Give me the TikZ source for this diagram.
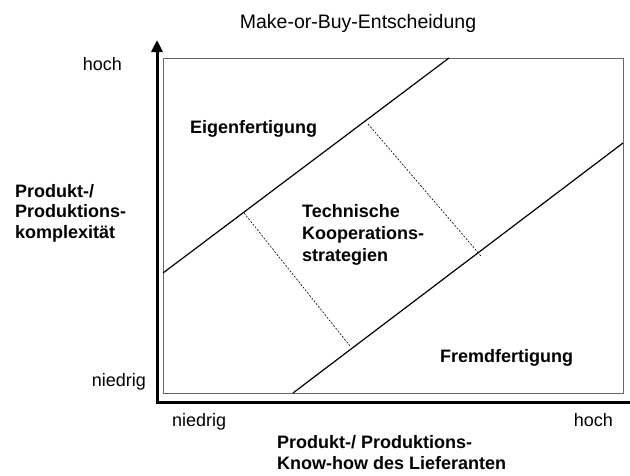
\documentclass[tikz,border=0pt]{standalone}
\usepackage{fontspec}
\setmainfont{Liberation Sans}
\usetikzlibrary{arrows.meta}
\tikzset{
  lbl/.style={font=\fontsize{18}{21}\selectfont, inner sep=0pt},
  blbl/.style={font=\fontsize{18}{20.5}\selectfont\bfseries, inner sep=0pt, align=left},
  axis/.style={line width=3pt},
  divide/.style={line width=1.2pt},
  split/.style={line width=0.6pt, dash pattern=on 2pt off 1.5pt},
}
\begin{document}
\begin{tikzpicture}[x=1pt,y=-1pt]
\useasboundingbox (0,0) rectangle (630,475);
% box
\node[draw=black!60, line width=1pt, minimum width=460pt, minimum height=335pt, anchor=north west, inner sep=0pt] (box) at (163,58) {};
% axes
\coordinate (o) at (157,402);
\coordinate (ytop) at (157,40);
\coordinate (xend) at (630,402);
\draw[axis, -{Triangle[length=12pt,width=11pt]}] (o) -- (ytop);
\draw[axis] ([xshift=-1.5pt]o) -- (xend);
% diagonal lines
\coordinate (u1) at (163,273);
\coordinate (u2) at (449,58);
\coordinate (l1) at (293,393);
\coordinate (l2) at (623,143);
\draw[divide] (u1) -- (u2);
\draw[divide] (l1) -- (l2);
% dashed
\coordinate (d1a) at (244,213);
\coordinate (d1b) at (350,346);
\coordinate (d2a) at (368,124);
\coordinate (d2b) at (481,256);
\draw[split] (d1a) -- (d1b);
\draw[split] (d2a) -- (d2b);
% texts
\node[lbl, anchor=base, font=\fontsize{19.5}{22}\selectfont] (title) at (358,28) {Make-or-Buy-Entscheidung};
\node[lbl, anchor=base east] (yhigh) at (122,70) {hoch};
\node[lbl, anchor=base east] (ylow) at (146,386) {niedrig};
\node[lbl, anchor=base west] (xlow) at (172,426) {niedrig};
\node[lbl, anchor=base east] (xhigh) at (613,426) {hoch};
\node[blbl, anchor=base west] (ylab) at (15,238) {Produkt-/\\Produktions-\\komplexität};
\node[blbl, anchor=base west, font=\fontsize{18}{20.5}\selectfont\bfseries] (xlab) at (277,469) {Produkt-/ Produktions-\\Know-how des Lieferanten};
\node[blbl, anchor=base west] (eigen) at (190,133) {Eigenfertigung};
\node[blbl, anchor=base west, font=\fontsize{18}{22}\selectfont\bfseries] (koop) at (302,261) {Technische\\Kooperations-\\strategien};
\node[blbl, anchor=base west] (fremd) at (440,362) {Fremdfertigung};
\end{tikzpicture}
\end{document}
